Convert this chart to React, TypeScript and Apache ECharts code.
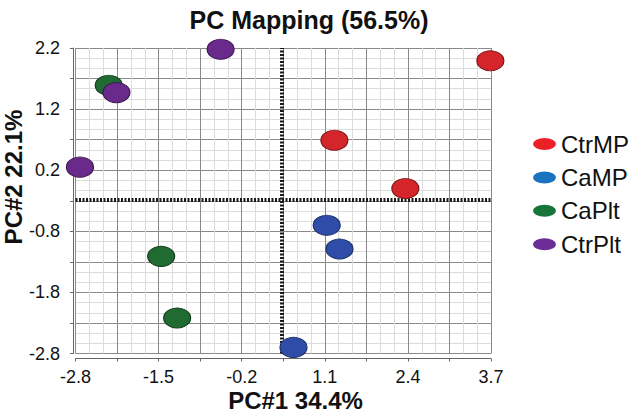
import React, { useEffect, useRef } from "react";
import * as echarts from "echarts";

const seriesNames = ["CtrMP", "CaMP", "CaPlt", "CtrPlt"];
const ctrMP = [[3.69, 1.99], [1.25, 0.69], [2.36, -0.1]];
const caMP = [[1.13, -0.7], [1.33, -1.09], [0.61, -2.7]];
const caPlt = [[-2.28, 1.59], [-1.46, -1.21], [-1.21, -2.22]];
const ctrPlt = [[-0.53, 2.18], [-2.16, 1.47], [-2.73, 0.25]];

const xMin = -2.8;
const xMax = 3.7;
const xLabelStep = 1.3;
const yMin = -2.8;
const yMax = 2.2;
const yLabelStep = 1.0;
const refX = 0.42;
const refY = -0.29;

const markerColors = ["#D4252A", "#2F4DA8", "#1F6B32", "#6A2A8B"];
const markerBorders = ["#7a1416", "#1b2d66", "#0f3a1a", "#3a1650"];
const legendColors = ["#EC2027", "#1A73BE", "#17753A", "#6E2C96"];

const FONT = "'Liberation Sans', Arial, sans-serif";
const ELLIPSE = "path://M0,6A11.5,6,0,1,1,23,6A11.5,6,0,1,1,0,6Z";

export default function App() {
  const ref = useRef<HTMLDivElement>(null);
  useEffect(() => {
    if (!ref.current) return;
    const chart = echarts.init(ref.current, undefined, { renderer: "svg" });
    const all = [ctrMP, caMP, caPlt, ctrPlt];
    const xStep = xLabelStep / 2;
    const yStep = yLabelStep / 2;
    const series: any[] = all.map((pts, i) => ({
      name: seriesNames[i],
      type: "scatter",
      symbol: "circle",
      symbolSize: [27, 20],
      clip: false,
      z: 3,
      itemStyle: {
        color: markerColors[i],
        borderColor: markerBorders[i],
        borderWidth: 1,
        opacity: 1,
      },
      data: pts.map(([x, y]) => [x - xMin, y - yMin]),
    }));
    series[0].markLine = {
      silent: true,
      symbol: "none",
      label: { show: false },
      z: 2,
      lineStyle: { color: "#1a1a1a", width: 4, type: [2, 1.5], opacity: 1 },
      data: [{ xAxis: refX - xMin }, { yAxis: refY - yMin }],
    };
    chart.setOption({
      animation: false,
      backgroundColor: "#ffffff",
      textStyle: { fontFamily: FONT },
      title: {
        text: "PC Mapping (56.5%)",
        left: 304,
        top: 2,
        textAlign: "center",
        textStyle: { fontFamily: FONT, fontSize: 25, fontWeight: "bold", color: "#111" },
      },
      legend: {
        orient: "vertical",
        left: 533,
        top: 132,
        padding: 0,
        itemGap: 9.4,
        itemWidth: 23,
        itemHeight: 12,
        icon: ELLIPSE,
        textStyle: { fontFamily: FONT, fontSize: 24, color: "#111" },
        data: seriesNames.map((n, i) => ({
          name: n,
          icon: ELLIPSE,
          itemStyle: { color: legendColors[i], borderWidth: 0 },
        })),
      },
      grid: { left: 75.5, right: 143, top: 48, bottom: 59.5, containLabel: false },
      xAxis: {
        type: "value",
        min: 0,
        max: xMax - xMin,
        interval: xStep,
        offset: 5,
        axisLine: { show: true, onZero: false, lineStyle: { color: "#666", width: 1 } },
        axisTick: { show: true, length: 3, lineStyle: { color: "#666" } },
        axisLabel: {
          margin: 9,
          fontSize: 18,
          color: "#111",
          fontFamily: FONT,
          formatter: (v: number) => {
            const k = Math.round(v / xStep);
            if (k % 2 !== 0) return "";
            return (v + xMin).toFixed(1);
          },
        },
        splitLine: { show: true, lineStyle: { color: "#8a8a8a", width: 1 } },
        minorTick: { show: false, splitNumber: 3 },
        minorSplitLine: { show: true, lineStyle: { color: "#dcdcdc", width: 1 } },
      },
      yAxis: {
        type: "value",
        min: 0,
        max: yMax - yMin,
        interval: yStep,
        offset: 2.5,
        axisLine: { show: true, onZero: false, lineStyle: { color: "#666", width: 1 } },
        axisTick: { show: true, length: 3, lineStyle: { color: "#666" } },
        axisLabel: {
          margin: 13,
          fontSize: 18,
          color: "#111",
          fontFamily: FONT,
          formatter: (v: number) => {
            const k = Math.round(v / yStep);
            if (k % 2 !== 0) return "";
            return (v + yMin).toFixed(1);
          },
        },
        splitLine: { show: true, lineStyle: { color: "#8a8a8a", width: 1 } },
        minorTick: { show: false, splitNumber: 3 },
        minorSplitLine: { show: true, lineStyle: { color: "#dcdcdc", width: 1 } },
      },
      graphic: [
        {
          type: "text",
          x: 295.5,
          y: 400,
          style: {
            text: "PC#1 34.4%",
            font: `bold 24px ${FONT}`,
            fill: "#111",
            align: "center",
            verticalAlign: "middle",
          },
        },
        {
          type: "text",
          x: 13,
          y: 177,
          rotation: Math.PI / 2,
          style: {
            text: "PC#2 22.1%",
            font: `bold 24px ${FONT}`,
            fill: "#111",
            align: "center",
            verticalAlign: "middle",
          },
        },
      ],
      series,
    });
    return () => chart.dispose();
  }, []);
  return (
    <div
      ref={ref}
      style={{ position: "fixed", left: 0, top: 0, width: 634, height: 413 }}
    />
  );
}
